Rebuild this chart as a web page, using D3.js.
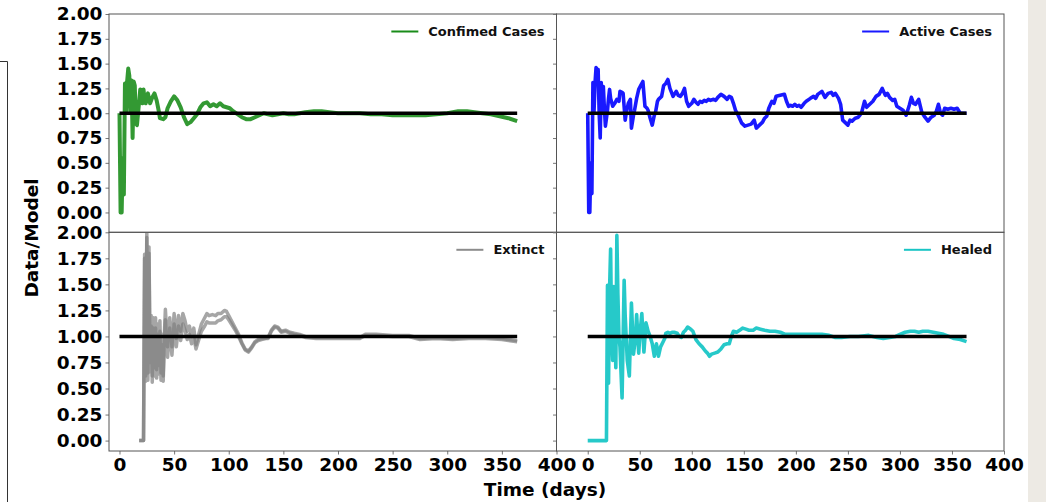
<!DOCTYPE html>
<html><head><meta charset="utf-8">
<script src="https://cdn.jsdelivr.net/npm/d3@7"></script>
<style>
body{margin:0;background:#fff;}
svg{display:block;font-family:"DejaVu Sans",sans-serif;}
</style></head><body>
<svg id="chart" width="1046" height="502"></svg>
<script>
// ---------- data (day, Data/Model ratio) ----------
const confirmedSeries = [[0,1.0],[1,0.0],[2,0.0],[3,0.55],[4,0.18],[5,1.30],[6,1.0],[7,1.32],[8,1.45],[9,1.38],[10,1.0],[11,1.33],[12,0.75],[13,1.32],[14,1.28],[15,0.90],[16,0.88],[17,1.0],[18,1.12],[19,1.24],[20,1.15],[21,1.10],[22,1.24],[23,1.13],[24,1.10],[26,1.20],[28,1.10],[30,1.16],[32,1.20],[34,1.13],[36,1.02],[37,0.95],[40,0.94],[42,0.96],[44,1.05],[47,1.12],[50,1.17],[53,1.13],[56,1.06],[59,0.96],[62,0.89],[65,0.91],[68,0.95],[71,0.99],[74,1.06],[77,1.10],[80,1.11],[83,1.07],[86,1.09],[89,1.07],[92,1.10],[95,1.07],[98,1.06],[101,1.05],[104,1.02],[108,0.99],[112,0.96],[116,0.94],[120,0.94],[124,0.96],[128,0.98],[132,1.0],[136,0.99],[140,0.98],[145,0.99],[150,1.0],[155,0.99],[160,0.99],[165,1.0],[170,1.01],[178,1.02],[185,1.02],[192,1.01],[200,1.0],[210,1.0],[220,1.0],[230,0.99],[240,0.99],[250,0.98],[260,0.98],[270,0.98],[280,0.98],[290,0.99],[300,1.0],[305,1.01],[310,1.02],[318,1.02],[325,1.01],[332,1.0],[340,0.99],[348,0.97],[356,0.95],[364,0.92]];

const activeSeries = [[0,1.0],[1,0.0],[2,0.0],[3,0.5],[4,0.19],[5,1.31],[6,1.0],[7,1.30],[8,1.46],[9,1.40],[10,1.44],[11,1.0],[12,0.75],[13,1.31],[14,1.0],[15,1.27],[16,1.05],[17,0.87],[18,0.95],[19,1.03],[20,1.15],[21,1.24],[22,1.15],[24,1.07],[26,1.10],[28,1.14],[30,1.12],[31,1.22],[33,1.21],[34,1.20],[36,0.93],[37,1.0],[39,1.10],[41,1.14],[42,0.85],[44,0.98],[45,1.03],[47,1.15],[49,1.24],[51,1.28],[53,1.32],[55,1.07],[57,1.05],[58,1.03],[60,0.95],[62,0.88],[64,0.98],[65,1.0],[67,1.12],[68,1.14],[71,1.17],[73,1.28],[75,1.30],[77,1.34],[79,1.25],[82,1.17],[85,1.22],[87,1.18],[89,1.17],[91,1.20],[93,1.25],[95,1.12],[97,1.07],[100,1.10],[102,1.14],[104,1.11],[106,1.09],[108,1.12],[110,1.11],[112,1.13],[114,1.12],[116,1.14],[118,1.13],[121,1.14],[123,1.13],[125,1.16],[128,1.19],[131,1.17],[134,1.14],[136,1.17],[138,1.16],[140,1.10],[142,1.03],[145,0.97],[148,0.90],[151,0.87],[154,0.88],[157,0.89],[160,0.93],[162,0.85],[165,0.88],[168,0.91],[170,0.95],[172,0.97],[174,1.05],[177,1.12],[179,1.10],[181,1.17],[185,1.18],[189,1.19],[191,1.12],[193,1.07],[195,1.08],[197,1.07],[199,1.09],[201,1.07],[203,1.08],[205,1.06],[208,1.10],[210,1.12],[214,1.15],[217,1.17],[219,1.15],[221,1.19],[225,1.22],[228,1.16],[231,1.20],[234,1.21],[236,1.18],[238,1.20],[241,1.15],[243,1.09],[245,0.93],[248,0.90],[250,0.88],[252,0.93],[254,0.92],[257,0.95],[260,0.96],[263,1.0],[266,1.12],[268,1.06],[269,1.07],[271,1.09],[274,1.12],[277,1.17],[280,1.19],[283,1.25],[286,1.18],[288,1.20],[290,1.16],[293,1.13],[295,1.14],[297,1.07],[300,1.05],[303,1.03],[306,0.98],[309,1.08],[311,1.16],[313,1.10],[315,1.09],[318,1.14],[321,1.01],[324,0.96],[327,0.92],[330,0.96],[333,0.98],[335,1.02],[337,1.09],[339,1.0],[341,0.98],[343,1.05],[346,1.04],[349,1.05],[352,1.04],[355,1.05],[358,1.0],[361,1.0],[364,1.0]];

const extinctUpperSeries = [[18,0],[22,0],[23,1.79],[24,0.62],[25,2.0],[26,0.65],[27,1.86],[28,0.75],[29,1.20],[30,0.62],[31,1.18],[32,0.70],[33,1.18],[34,0.68],[35,1.12],[36,0.72],[37,1.15],[38,0.65],[39,1.02],[40,0.62],[41,1.0],[42,1.26],[44,0.90],[46,1.18],[48,0.90],[50,1.22],[52,0.98],[54,1.20],[56,1.05],[58,1.22],[60,1.15],[62,1.05],[64,1.10],[66,1.0],[68,1.08],[70,0.92],[72,1.0],[75,1.12],[78,1.18],[80,1.22],[82,1.20],[85,1.21],[88,1.20],[90,1.22],[93,1.22],[96,1.25],[98,1.24],[100,1.20],[103,1.14],[106,1.08],[109,1.02],[112,0.94],[115,0.88],[118,0.86],[121,0.90],[124,0.95],[127,0.97],[130,0.98],[133,0.98],[136,0.99],[139,1.06],[142,1.10],[145,1.09],[148,1.05],[152,1.06],[156,1.04],[160,1.03],[165,1.02],[170,1.0],[180,0.99],[190,0.99],[200,0.99],[210,0.99],[220,0.99],[225,1.02],[235,1.02],[250,1.01],[265,1.01],[275,0.98],[290,0.99],[305,0.98],[320,0.99],[335,0.99],[350,0.98],[364,0.96]];

const extinctLowerSeries = [[18,0],[22,0],[23,1.75],[24,0.57],[25,1.95],[26,0.58],[27,1.80],[28,0.66],[29,1.10],[30,0.56],[31,1.08],[32,0.62],[33,1.08],[34,0.60],[35,1.02],[36,0.64],[37,1.05],[38,0.58],[39,0.92],[40,0.57],[41,0.92],[42,1.16],[44,0.80],[46,1.08],[48,0.82],[50,1.12],[52,0.90],[54,1.10],[56,0.96],[58,1.12],[60,1.06],[62,0.97],[64,1.02],[66,0.93],[68,1.0],[70,0.88],[72,0.95],[75,1.05],[78,1.10],[80,1.14],[82,1.13],[85,1.13],[88,1.13],[90,1.15],[93,1.16],[96,1.19],[98,1.19],[100,1.16],[103,1.11],[106,1.06],[109,1.0],[112,0.93],[115,0.87],[118,0.85],[121,0.89],[124,0.94],[127,0.96],[130,0.97],[133,0.98],[136,0.98],[139,1.05],[142,1.09],[145,1.08],[148,1.04],[152,1.05],[156,1.03],[160,1.02],[165,1.01],[170,0.99],[180,0.98],[190,0.98],[200,0.98],[210,0.98],[220,0.98],[225,1.01],[235,1.01],[250,1.0],[265,1.0],[275,0.97],[290,0.98],[305,0.97],[320,0.98],[335,0.98],[350,0.97],[364,0.95]];

const healedSeries = [[0,0],[18,0],[19,1.49],[20,0.55],[21,1.45],[22,1.84],[23,1.0],[24,0.77],[25,1.48],[26,1.15],[27,0.70],[28,1.97],[29,1.40],[30,1.0],[31,0.90],[33,0.41],[35,1.54],[36,1.2],[38,0.77],[40,0.62],[42,1.32],[44,0.83],[46,1.0],[47,1.21],[49,0.84],[50,1.0],[52,1.22],[54,0.85],[56,1.13],[58,1.05],[60,1.0],[62,0.93],[64,0.81],[66,0.93],[68,0.81],[70,0.90],[72,0.94],[74,0.98],[75,1.03],[77,1.04],[79,1.03],[81,1.04],[83,1.04],[86,1.03],[88,1.0],[90,0.99],[92,1.04],[94,1.06],[96,1.09],[99,1.07],[101,1.05],[104,0.97],[107,0.93],[110,0.90],[113,0.86],[115,0.84],[117,0.81],[119,0.83],[122,0.84],[125,0.85],[128,0.88],[131,0.92],[134,0.93],[136,0.93],[138,1.0],[140,1.05],[143,1.04],[146,1.06],[149,1.08],[152,1.07],[155,1.06],[159,1.06],[162,1.08],[166,1.07],[170,1.06],[175,1.05],[180,1.05],[185,1.04],[190,1.02],[196,1.02],[205,1.02],[215,1.02],[225,1.02],[232,1.01],[238,0.99],[244,0.99],[252,1.0],[260,1.0],[270,1.01],[278,0.99],[284,0.98],[290,0.99],[296,1.0],[300,1.02],[305,1.04],[310,1.05],[314,1.05],[318,1.04],[322,1.05],[327,1.05],[332,1.04],[337,1.03],[342,1.02],[347,1.0],[352,0.98],[358,0.97],[364,0.95]];

const referenceSeries = [[0,1.0],[364,1.0]];

const yTickValues = [0,0.25,0.5,0.75,1.0,1.25,1.5,1.75,2.0];
const xTickValues = [0,50,100,150,200,250,300,350,400];
const legendLabels = ["Confimed Cases","Active Cases","Extinct","Healed"];
const yLabel = "Data/Model";
const xLabel = "Time (days)";

// ---------- layout ----------
const svg = d3.select("#chart");
svg.append("rect").attr("x",1028).attr("y",0).attr("width",18).attr("height",502).attr("fill","#edeae4");
svg.append("path").attr("d","M0,61.5H7.5V502").attr("fill","none").attr("stroke","#333").attr("stroke-width",1);

const cols = [{x0:109, x1:556.5, dom:[-9.6,400]}, {x0:556.5, x1:1004, dom:[-30,400]}];
const rows = [{y0:14, y1:232.3, dom:[-0.2,2.0]}, {y0:232.3, y1:451, dom:[-0.1,2.0]}];

const panels = [
  {label:legendLabels[0], series:[{data:confirmedSeries, color:"#008000", w:4, op:0.8}], color:"#008000", col:0, row:0},
  {label:legendLabels[1], series:[{data:activeSeries, color:"#0000ff", w:3.6, op:0.9}], color:"#0000ff", col:1, row:0},
  {label:legendLabels[2], series:[{data:extinctUpperSeries, color:"#808080", w:3.5, op:0.7},{data:extinctLowerSeries, color:"#808080", w:3.5, op:0.7}], color:"#808080", col:0, row:1},
  {label:legendLabels[3], series:[{data:healedSeries, color:"#00bfbf", w:3.6, op:0.85}], color:"#00bfbf", col:1, row:1}
];

const tickFont = "18.5px";

panels.forEach((p,i)=>{
  const c = cols[p.col], r = rows[p.row];
  const x = d3.scaleLinear().domain(c.dom).range([c.x0,c.x1]);
  const y = d3.scaleLinear().domain(r.dom).range([r.y1,r.y0]);
  const g = svg.append("g");
  const clipId = "clip"+i;
  svg.append("clipPath").attr("id",clipId).append("rect")
    .attr("x",c.x0).attr("y",r.y0).attr("width",c.x1-c.x0).attr("height",r.y1-r.y0);

  const ya = g.append("g").attr("transform",`translate(${c.x0},0)`)
    .call(d3.axisLeft(y).tickValues(yTickValues).tickSize(3.5).tickPadding(3)
      .tickFormat(p.col===0 ? d3.format(".2f") : ()=>""));
  ya.select(".domain").remove();
  ya.selectAll(".tick line").attr("stroke","#777");
  ya.selectAll(".tick text").attr("font-size",tickFont).attr("font-weight","bold")
    .attr("font-family","DejaVu Sans").attr("fill","#000");

  if (p.row===1){
    const xa = g.append("g").attr("transform",`translate(0,${r.y1})`)
      .call(d3.axisBottom(x).tickValues(xTickValues).tickSize(3.5).tickPadding(3).tickFormat(d3.format("d")));
    xa.select(".domain").remove();
    xa.selectAll(".tick line").attr("stroke","#777");
    xa.selectAll(".tick text").attr("font-size",tickFont).attr("font-weight","bold")
      .attr("font-family","DejaVu Sans").attr("fill","#000");
  }

  const line = d3.line().x(d=>x(d[0])).y(d=>y(d[1]));
  const pg = g.append("g").attr("clip-path",`url(#${clipId})`);
  p.series.forEach(s=>{
    pg.append("path").datum(s.data).attr("d",line)
      .attr("fill","none").attr("stroke",s.color).attr("stroke-width",s.w)
      .attr("stroke-opacity",s.op).attr("stroke-linejoin","round");
  });
  pg.append("path").datum(referenceSeries).attr("d",line)
    .attr("fill","none").attr("stroke","#000").attr("stroke-width",3.5);

  g.append("rect").attr("x",c.x0).attr("y",r.y0).attr("width",c.x1-c.x0).attr("height",r.y1-r.y0)
    .attr("fill","none").attr("stroke","#555").attr("stroke-width",1);

  const ly = r.y0 + 17.5;
  const t = g.append("text").attr("x",c.x1-12).attr("y",ly).attr("text-anchor","end")
    .attr("dominant-baseline","central").attr("font-size","13px").attr("font-weight","bold")
    .attr("fill","#111").text(p.label);
  const tw = t.node().getComputedTextLength();
  const lx1 = c.x1-12-tw-10;
  g.append("line").attr("x1",lx1-27).attr("x2",lx1).attr("y1",ly).attr("y2",ly)
    .attr("stroke",p.color).attr("stroke-width",2).attr("stroke-opacity",0.9);
});

svg.append("text").attr("transform","translate(31,238) rotate(-90)")
  .attr("text-anchor","middle").attr("dominant-baseline","central")
  .attr("font-size","18.5px").attr("font-weight","bold").attr("fill","#000").text(yLabel);
svg.append("text").attr("x",545).attr("y",489).attr("text-anchor","middle")
  .attr("dominant-baseline","central")
  .attr("font-size","18.5px").attr("font-weight","bold").attr("fill","#000").text(xLabel);
</script>
</body></html>
